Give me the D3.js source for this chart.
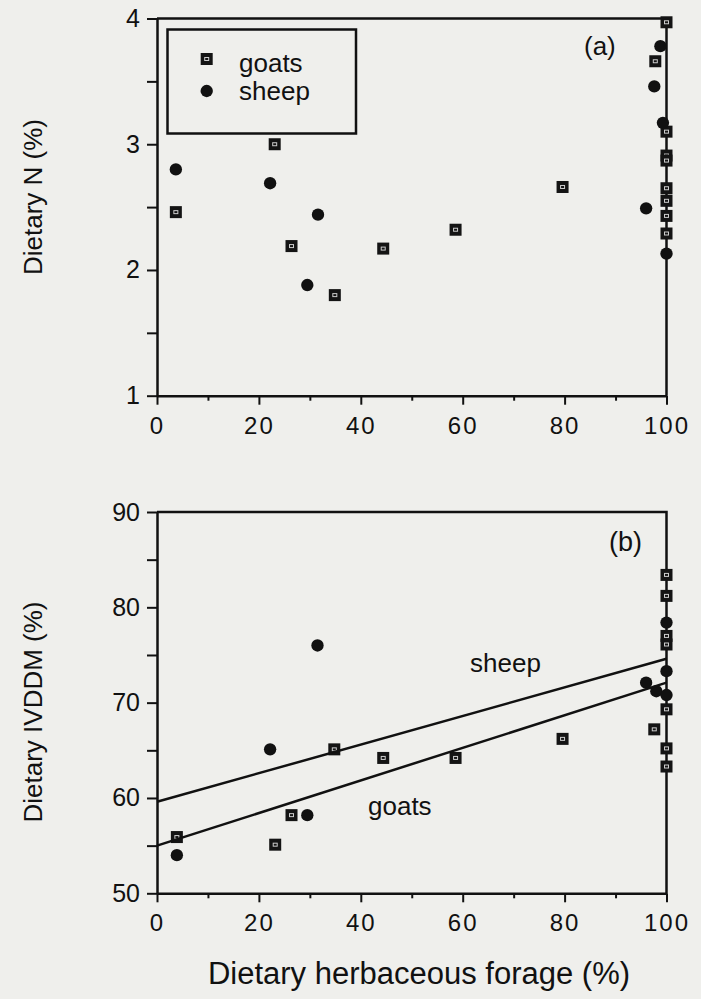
<!DOCTYPE html>
<html>
<head>
<meta charset="utf-8">
<script src="https://cdn.jsdelivr.net/npm/d3@7"></script>
<style>
  html, body { margin: 0; padding: 0; background: #efefec; }
  svg { display: block; }
  text { font-family: "Liberation Sans", Arial, sans-serif; fill: #111; }
</style>
</head>
<body>
<svg id="chart" width="701" height="999"></svg>
<script>
// ---------- data ----------
const xTickValues = [0, 20, 40, 60, 80, 100];
const xMinorTicks = [10, 30, 50, 70, 90];
const nTickValues = [1, 2, 3, 4];
const nMinorTicks = [1.5, 2.5, 3.5];
const ivddmTickValues = [50, 60, 70, 80, 90];
const ivddmMinorTicks = [55, 65, 75, 85];

// [herbaceous forage %, dietary N %]
const goatsN = [[3.7, 2.46], [23.1, 3.0], [26.4, 2.19], [34.9, 1.80], [44.4, 2.17], [58.6, 2.32],
  [79.6, 2.66], [97.8, 3.66], [100, 3.97], [100, 3.10], [100, 2.91], [100, 2.87], [100, 2.65],
  [100, 2.55], [100, 2.43], [100, 2.29]];
const sheepN = [[3.7, 2.80], [22.2, 2.69], [31.6, 2.44], [29.5, 1.88], [96, 2.49], [97.6, 3.46],
  [98.8, 3.78], [99.3, 3.17], [100, 2.13]];

// [herbaceous forage %, dietary IVDDM %]
const goatsIVDDM = [[3.9, 55.9], [23.2, 55.1], [26.4, 58.2], [34.8, 65.1], [44.4, 64.2], [58.6, 64.2],
  [79.6, 66.2], [97.6, 67.2], [100, 83.4], [100, 81.2], [100, 77.0], [100, 76.1], [100, 69.3],
  [100, 65.2], [100, 63.3]];
const sheepIVDDM = [[3.9, 54.0], [22.2, 65.1], [29.5, 58.2], [31.5, 76.0], [96, 72.1], [98, 71.2],
  [100, 70.8], [100, 73.3], [100, 78.4]];

// regression lines [x, y]
const sheepFit = [[0, 59.6], [100, 74.6]];
const goatsFit = [[0, 55.0], [100, 72.1]];

const seriesNames = ["goats", "sheep"];

// ---------- drawing ----------
const svg = d3.select("#chart");
const x = d3.scaleLinear().domain([0, 100]).range([157, 666.5]);
const yA = d3.scaleLinear().domain([1, 4]).range([395.7, 18.5]);
const yB = d3.scaleLinear().domain([50, 90]).range([893.3, 512]);

function goatMark(g, px, py) {
  g.append("rect").attr("x", px - 6).attr("y", py - 6).attr("width", 12).attr("height", 12)
    .attr("fill", "#141414");
  g.append("rect").attr("x", px - 2).attr("y", py - 1.5).attr("width", 4).attr("height", 3)
    .attr("fill", "none").attr("stroke", "#ccc").attr("stroke-width", 1);
}
function sheepMark(g, px, py) {
  g.append("path").attr("transform", `translate(${px},${py})`)
    .attr("d", d3.symbol(d3.symbolCircle, 120)()).attr("fill", "#111");
}

function panel(y, yTicks, yMinor, goats, sheep, yTitle, yTitleCenter) {
  const g = svg.append("g");
  const [y0, y1] = y.range();
  // frame top & right
  g.append("path")
    .attr("d", `M${x(0)},${y1}H${x(100)}V${y0}`)
    .attr("fill", "none").attr("stroke", "#111").attr("stroke-width", 2.5);

  // x axis
  const xa = g.append("g").attr("transform", `translate(0,${y0})`)
    .call(d3.axisBottom(x).tickValues(xTickValues).tickSize(9).tickPadding(12).tickSizeOuter(0));
  xa.select(".domain").attr("stroke", "#111").attr("stroke-width", 2.5);
  xa.selectAll(".tick line").attr("stroke", "#111").attr("stroke-width", 2);
  xa.selectAll(".tick text").attr("font-size", 24).attr("letter-spacing", 2)
    .attr("font-family", "Liberation Sans, Arial, sans-serif").attr("fill", "#111");
  g.append("g").attr("transform", `translate(0,${y0})`)
    .call(d3.axisBottom(x).tickValues(xMinorTicks).tickSize(5).tickFormat("").tickSizeOuter(0))
    .call(s => { s.select(".domain").remove(); s.selectAll("line").attr("stroke", "#111").attr("stroke-width", 2); });

  // y axis
  const ya = g.append("g").attr("transform", `translate(${x(0)},0)`)
    .call(d3.axisLeft(y).tickValues(yTicks).tickFormat(d3.format("d")).tickSize(10).tickPadding(7).tickSizeOuter(0));
  ya.select(".domain").attr("stroke", "#111").attr("stroke-width", 2.5);
  ya.selectAll(".tick line").attr("stroke", "#111").attr("stroke-width", 2);
  ya.selectAll(".tick text").attr("font-size", 25)
    .attr("font-family", "Liberation Sans, Arial, sans-serif").attr("fill", "#111");
  g.append("g").attr("transform", `translate(${x(0)},0)`)
    .call(d3.axisLeft(y).tickValues(yMinor).tickSize(10).tickFormat("").tickSizeOuter(0))
    .call(s => { s.select(".domain").remove(); s.selectAll("line").attr("stroke", "#111").attr("stroke-width", 2); });

  // y title
  g.append("text").attr("transform", `translate(42,${yTitleCenter}) rotate(-90)`)
    .attr("text-anchor", "middle").attr("font-size", 26).text(yTitle);

  // points
  const pts = g.append("g");
  goats.forEach(d => goatMark(pts, x(d[0]), y(d[1])));
  sheep.forEach(d => sheepMark(pts, x(d[0]), y(d[1])));
  return g;
}

const gA = panel(yA, nTickValues, nMinorTicks, goatsN, sheepN, "Dietary N (%)", 197);
const gB = panel(yB, ivddmTickValues, ivddmMinorTicks, goatsIVDDM, sheepIVDDM, "Dietary IVDDM (%)", 712);

// panel labels
gA.append("text").attr("x", 584).attr("y", 55).attr("font-size", 26)
  .attr("font-family", "Liberation Serif, Times New Roman, serif").text("(a)");
gB.append("text").attr("x", 609).attr("y", 551).attr("font-size", 27).text("(b)");

// legend (panel a)
const leg = gA.append("g");
leg.append("rect").attr("x", 167.5).attr("y", 29.5).attr("width", 188.5).attr("height", 104)
  .attr("fill", "none").attr("stroke", "#111").attr("stroke-width", 2.5);
goatMark(leg, 206.7, 59);
sheepMark(leg, 206.7, 91);
leg.append("text").attr("x", 239).attr("y", 72).attr("font-size", 26).text(seriesNames[0]);
leg.append("text").attr("x", 239).attr("y", 100).attr("font-size", 26).text(seriesNames[1]);

// regression lines (panel b)
const line = d3.line().x(d => x(d[0])).y(d => yB(d[1]));
gB.append("path").datum(sheepFit).attr("d", line).attr("fill", "none").attr("stroke", "#111").attr("stroke-width", 2.5);
gB.append("path").datum(goatsFit).attr("d", line).attr("fill", "none").attr("stroke", "#111").attr("stroke-width", 2.5);
gB.append("text").attr("x", 470).attr("y", 672).attr("font-size", 26).text(seriesNames[1]);
gB.append("text").attr("x", 368).attr("y", 815).attr("font-size", 26).text(seriesNames[0]);

// x title
svg.append("text").attr("x", 419).attr("y", 984).attr("text-anchor", "middle")
  .attr("font-size", 31).text("Dietary herbaceous forage (%)");
</script>
</body>
</html>
